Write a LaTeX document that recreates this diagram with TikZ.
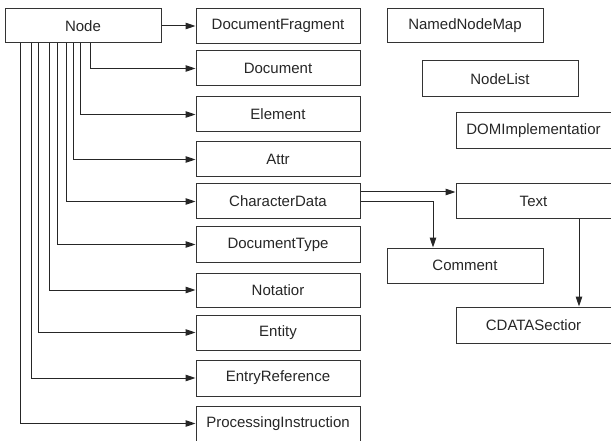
\documentclass[tikz,border=0pt]{standalone}
\usepackage{fontspec}
\setmainfont{Liberation Sans}
\usetikzlibrary{arrows.meta}
\begin{document}
\begin{tikzpicture}[x=1pt,y=-1pt,
  box/.style={draw=black!80, line width=1pt, rectangle, inner sep=0pt,
    minimum width=#1, minimum height=35pt, text=black!85,
    font=\fontsize{15}{18}\selectfont},
  box/.default=164pt,
  arr/.style={draw=black!85, line width=1pt, -{Triangle[length=10pt,width=6.5pt]}}]
\useasboundingbox (0,0) rectangle (611,441);
% left node
\node[box=156pt, minimum height=34pt] (N) at (83,26) {Node};
% right column
\node[box] (DF) at (278,26) {DocumentFragment};
\node[box] (D) at (278,68.5) {Document};
\node[box] (E) at (278,114.5) {Element};
\node[box] (A) at (278,159.5) {Attr};
\node[box] (CD) at (278,201.5) {CharacterData};
\node[box] (DT) at (278,244.5) {DocumentType};
\node[box, minimum height=34pt] (NO) at (278,290) {Notatior};
\node[box] (EN) at (278,332.5) {Entity};
\node[box, minimum height=36pt] (ER) at (278,378) {EntryReference};
\node[box] (PI) at (278,423.5) {ProcessingInstruction};
% far right
\node[box=156pt, minimum height=34pt] (NNM) at (465,26) {NamedNodeMap};
\node[box=156pt, minimum height=36pt] (NL) at (500,79) {NodeList};
\node[box=155pt, minimum height=36pt] (DI) at (533.5,131) {DOMImplementatior};
\node[box=155pt] (T) at (533.5,201.5) {Text};
\node[box=156pt] (C) at (465,265.5) {Comment};
\node[box=155pt, minimum height=36pt] (CS) at (533.5,325) {CDATASectior};
% connectors
\draw[arr] (N.east) -- (DF.west);
\draw[arr] ([xshift=86pt]N.south west) |- (D.west);
\draw[arr] ([xshift=76pt]N.south west) |- (E.west);
\draw[arr] ([xshift=69pt]N.south west) |- (A.west);
\draw[arr] ([xshift=62pt]N.south west) |- (CD.west);
\draw[arr] ([xshift=53pt]N.south west) |- (DT.west);
\draw[arr] ([xshift=45pt]N.south west) |- (NO.west);
\draw[arr] ([xshift=34pt]N.south west) |- (EN.west);
\draw[arr] ([xshift=27pt]N.south west) |- (ER.west);
\draw[arr] ([xshift=16pt]N.south west) |- (PI.west);
\coordinate (T1) at ([yshift=9.5pt]T.west);
\draw[arr] (CD.east |- T1) -- (T1);
\draw[arr] (CD.east) -| ([xshift=-32pt]C.north);
\draw[arr] ([xshift=45.5pt]T.south) -- ([xshift=45.5pt]CS.north);
\end{tikzpicture}
\end{document}
